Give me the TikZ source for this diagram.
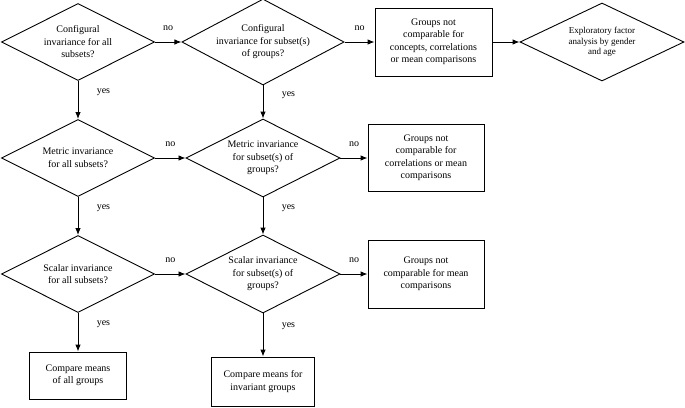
\documentclass[tikz,border=0pt]{standalone}
\usepackage{fontspec}
\setmainfont{Liberation Serif}
\usetikzlibrary{arrows.meta,shapes.geometric,positioning}

\tikzset{
  decision/.style={diamond,draw,line width=0.9pt,inner sep=0pt,aspect=2,align=center,
    font=\fontsize{10}{12.5}\selectfont},
  block/.style={rectangle,draw,line width=0.9pt,inner sep=0pt,align=center,
    font=\fontsize{10}{12.5}\selectfont},
  lblno/.style={above=8pt,font=\fontsize{10}{12}\selectfont},
  lblyes/.style={right=15pt,pos=0.3,font=\fontsize{10}{12}\selectfont}
}

\begin{document}
\begin{tikzpicture}[x=1pt,y=-1pt,>={Latex[length=7pt,width=5.5pt]},line width=0.9pt,auto,node distance=116pt]
    \useasboundingbox (0,0) rectangle (685,407);

    \node[decision,minimum width=153pt,minimum height=77pt] (d11) at (78,42) {Configural\\invariance for all\\subsets?};
    \node[decision,minimum width=160pt,minimum height=86pt] (d12) [right of=d11,node distance=185pt] {Configural\\invariance for subset(s)\\of groups?};
    \node[block,minimum width=117pt,minimum height=68pt] (b13) [right of=d12,node distance=170.5pt] {Groups not\\comparable for\\concepts, correlations\\or mean comparisons};
    \node[decision,minimum width=164pt,minimum height=78pt,font=\fontsize{9}{10.5}\selectfont] (d14) [right of=b13,node distance=168.5pt] {Exploratory factor\\analysis by gender\\and age};

    \node[decision,minimum width=153pt,minimum height=77pt] (d21) [below of=d11] {Metric invariance\\for all subsets?};
    \node[decision,minimum width=154pt,minimum height=78pt] (d22) [below of=d12] {Metric invariance\\for subset(s) of\\groups?};
    \node[block,minimum width=116pt,minimum height=67pt] (b23) [right of=d22,node distance=163pt] {Groups not\\comparable for\\correlations or mean\\comparisons};

    \node[decision,minimum width=153pt,minimum height=77pt] (d31) [below of=d21] {Scalar invariance\\for all subsets?};
    \node[decision,minimum width=154pt,minimum height=78pt] (d32) [below of=d22] {Scalar invariance\\for subset(s) of\\groups?};
    \node[block,minimum width=116pt,minimum height=68pt] (b33) [right of=d32,node distance=163pt] {Groups not\\comparable for mean\\comparisons};

    \node[block,minimum width=97pt,minimum height=47pt] (b41) [below of=d31,node distance=101.5pt] {Compare means\\of all groups};
    \node[block,minimum width=103pt,minimum height=49pt] (b42) [below of=d32,node distance=107.5pt] {Compare means for\\invariant groups};

    \path[->]
    (d11) edge node[lblno] {no} (d12)
    (d11) edge node[lblyes] {yes} (d21)
    (d12) edge node[lblno] {no} (b13)
    (d12) edge node[lblyes] {yes} (d22)
    (b13) edge (d14)

    (d21) edge node[lblno] {no} (d22)
    (d21) edge node[lblyes] {yes} (d31)
    (d22) edge node[lblno] {no} (b23)
    (d22) edge node[lblyes] {yes} (d32)

    (d31) edge node[lblno] {no} (d32)
    (d31) edge node[lblyes] {yes} (b41)
    (d32) edge node[lblno] {no} (b33)
    (d32) edge node[lblyes] {yes} (b42)
    ;
  \end{tikzpicture}
\end{document}
